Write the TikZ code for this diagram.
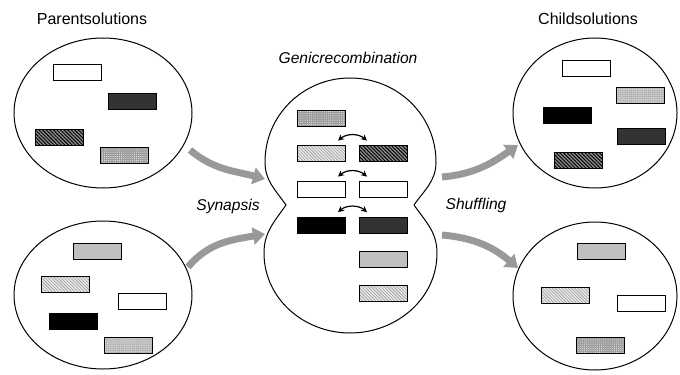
\documentclass[tikz,border=0pt]{standalone}
\usepackage{fontspec}
\setmainfont{Liberation Sans}
\usetikzlibrary{arrows.meta,patterns.meta,shapes.geometric}
\definecolor{flowgrey}{HTML}{999999}
\definecolor{hatchdark}{HTML}{8A8A8A}
\definecolor{hatchlight}{HTML}{E8E8E8}
\definecolor{griddark}{HTML}{9C9C9C}
\definecolor{gridlight}{HTML}{C8C8C8}
\begin{document}
\begin{tikzpicture}[x=0.75pt,y=-0.75pt,
  pool/.style={draw=black, line width=0.75pt, ellipse, inner sep=0pt},
  gene/.style={draw=black, line width=0.6pt, rectangle, minimum width=36pt, minimum height=12pt, inner sep=0pt},
  g-white/.style={gene, fill=white},
  g-dark/.style={gene, fill=black!80},
  g-black/.style={gene, fill=black},
  g-grey/.style={gene, fill=black!25},
  g-hatch/.style={gene, preaction={fill=hatchdark}, pattern={Lines[angle=-45,distance=1.9pt,line width=0.7pt]}, pattern color=black},
  g-lhatch/.style={gene, preaction={fill=hatchlight}, pattern={Lines[angle=-45,distance=1.7pt,line width=0.45pt]}, pattern color=black!40},
  g-gdark/.style={gene, preaction={fill=griddark}, pattern={Dots[distance=1.6pt,radius=0.35pt]}, pattern color=white},
  g-glight/.style={gene, preaction={fill=gridlight}, pattern={Dots[distance=1.6pt,radius=0.35pt]}, pattern color=black!45},
  title/.style={font=\fontsize{12}{14}\selectfont, inner sep=0pt},
  phase/.style={font=\fontsize{11.7}{14}\selectfont\itshape, inner sep=0pt},
  flow/.style={draw=flowgrey, line width=5.2pt, -{Triangle[length=9pt,width=12.5pt]}},
  swap/.style={draw=black, line width=0.9pt, {Stealth[length=4.5pt,width=4.5pt]}-{Stealth[length=4.5pt,width=4.5pt]}}
]
\useasboundingbox (0,0) rectangle (680,374);

% headings
\node[title] (parents) at (92,19) {Parentsolutions};
\node[title] (children) at (588,19) {Childsolutions};
\node[phase] (genic) at (348,58) {Genicrecombination};
\node[phase] (synapsis) at (228,206) {Synapsis};
\node[phase] (shuffling) at (476,205) {Shuffling};

% parent pools
\node[pool, minimum width=133.5pt, minimum height=112.5pt] (p1) at (103,113) {};
\node[pool, minimum width=133.5pt, minimum height=111pt] (p2) at (103,295) {};

% child pools
\node[pool, minimum width=123pt, minimum height=112.5pt] (c1) at (595,113) {};
\node[pool, minimum width=123pt, minimum height=111pt] (c2) at (595,296) {};

% recombination cell: two lobes pinched in the middle
\coordinate (notchL) at (286,205);
\coordinate (notchR) at (414,205);
\coordinate (topR) at (436,162);
\coordinate (topT) at (350,78);
\coordinate (topL) at (265,162);
\coordinate (botL) at (264,253);
\coordinate (botB) at (350,333);
\coordinate (botR) at (437,253);
\draw[line width=0.75pt]
  (notchR) to[out=55, in=-90] (topR)
  to[out=90, in=0] (topT)
  to[out=180, in=90] (topL)
  to[out=-90, in=125] (notchL)
  to[out=-125, in=90] (botL)
  to[out=-90, in=180] (botB)
  to[out=0, in=-90] (botR)
  to[out=90, in=-55] (notchR);

% genes of the first parent
\node[g-white] (a1) at (77,72) {};
\node[g-dark]  (a2) at (132,101) {};
\node[g-hatch] (a3) at (59,137) {};
\node[g-gdark] (a4) at (124.5,155) {};

% genes of the second parent
\node[g-grey]   (b1) at (97,251) {};
\node[g-lhatch] (b2) at (65.5,284.5) {};
\node[g-white]  (b3) at (142,301) {};
\node[g-black]  (b4) at (73.5,321) {};
\node[g-glight] (b5) at (128.5,345) {};

% genes inside the recombination cell
\node[g-gdark]  (m1) at (321.5,118) {};
\node[g-lhatch] (m2l) at (321.5,153.5) {};
\node[g-hatch]  (m2r) at (383,153.5) {};
\node[g-white]  (m3l) at (321.5,189.5) {};
\node[g-white]  (m3r) at (383,189.5) {};
\node[g-black]  (m4l) at (321.5,225) {};
\node[g-dark]   (m4r) at (383,225) {};
\node[g-grey]   (m5) at (383,259.5) {};
\node[g-lhatch] (m6) at (383,293.5) {};

% crossover exchanges
\draw[swap] ([shift={(16.5,-4.5)}]m2l.north) to[bend left=40] ([shift={(-16,-4.5)}]m2r.north);
\draw[swap] ([shift={(16.5,-4.5)}]m3l.north) to[bend left=40] ([shift={(-16,-4.5)}]m3r.north);
\draw[swap] ([shift={(16.5,-4.5)}]m4l.north) to[bend left=40] ([shift={(-16,-4.5)}]m4r.north);

% genes of the first child
\node[g-white]  (d1) at (586,68) {};
\node[g-glight] (d2) at (640,95.5) {};
\node[g-black]  (d3) at (567.5,115) {};
\node[g-dark]   (d4) at (641,136) {};
\node[g-hatch]  (d5) at (578.5,160) {};

% genes of the second child
\node[g-grey]   (e1) at (601,251.5) {};
\node[g-lhatch] (e2) at (565,295) {};
\node[g-white]  (e3) at (641.5,303) {};
\node[g-gdark]  (e4) at (600,345) {};

% flow arrows
\coordinate (s1) at (190,150);
\coordinate (t1) at (265,179);
\coordinate (s2) at (188,267);
\coordinate (t2) at (265,234);
\coordinate (s3) at (442,177);
\coordinate (t3) at (518,145);
\coordinate (s4) at (442,235);
\coordinate (t4) at (518,268);
\draw[flow] (s1) to[out=-40, in=165] (t1);
\draw[flow] (s2) to[out=50, in=190] (t2);
\draw[flow] (s3) to[out=5, in=215] (t3);
\draw[flow] (s4) to[out=-5, in=140] (t4);
\end{tikzpicture}
\end{document}
